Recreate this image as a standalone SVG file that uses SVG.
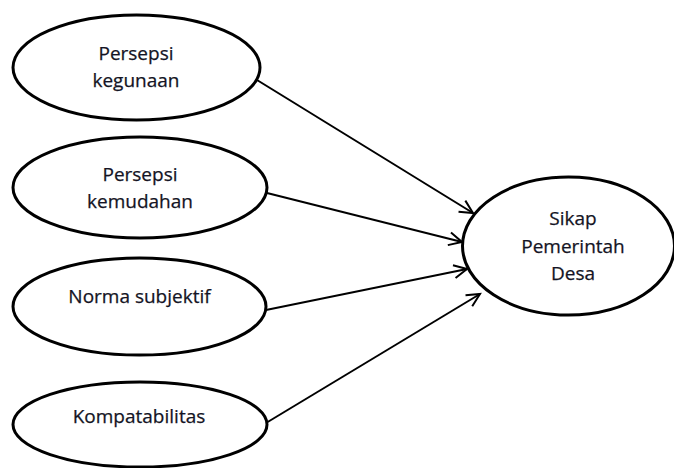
<svg xmlns="http://www.w3.org/2000/svg" width="674" height="468" viewBox="0 0 674 468">
<style>
.node ellipse{fill:#fff;stroke:#000;stroke-width:3}
.node text{font-family:"Open Sans","Liberation Sans",sans-serif;font-size:19px;fill:#141424;stroke:#141424;stroke-width:0.25;text-anchor:middle}
.edges line{stroke:#000;stroke-width:2;marker-end:url(#arr)}
</style>
<defs>
<marker id="arr" markerUnits="userSpaceOnUse" markerWidth="18" markerHeight="18" viewBox="0 0 18 18" refX="15" refY="9" orient="auto">
<path d="M2,2.5 L15,9 L2,15.5" fill="none" stroke="#000" stroke-width="2"/>
</marker>
</defs>
<rect width="674" height="468" fill="#fff"/>
<g class="edges">
<line x1="257" y1="80" x2="473" y2="213"/>
<line x1="267" y1="193" x2="462" y2="242"/>
<line x1="266" y1="310" x2="467" y2="269"/>
<line x1="266" y1="423" x2="480" y2="294"/>
</g>
<g id="n1" class="node">
<ellipse cx="136.5" cy="67.5" rx="123.5" ry="52.5"/>
<text x="136" y="60">Persepsi</text>
<text x="136" y="87">kegunaan</text>
</g>
<g id="n2" class="node">
<ellipse cx="140" cy="187.5" rx="127" ry="50.5"/>
<text x="140" y="181">Persepsi</text>
<text x="140" y="208">kemudahan</text>
</g>
<g id="n3" class="node">
<ellipse cx="139.5" cy="306.5" rx="126.5" ry="48.5"/>
<text x="139.5" y="303">Norma subjektif</text>
</g>
<g id="n4" class="node">
<ellipse cx="140" cy="424.5" rx="127" ry="42.5"/>
<text x="139" y="423">Kompatabilitas</text>
</g>
<g id="n5" class="node">
<ellipse cx="568.5" cy="246" rx="106" ry="69"/>
<text x="573" y="225">Sikap</text>
<text x="573" y="253">Pemerintah</text>
<text x="573" y="280">Desa</text>
</g>
</svg>
